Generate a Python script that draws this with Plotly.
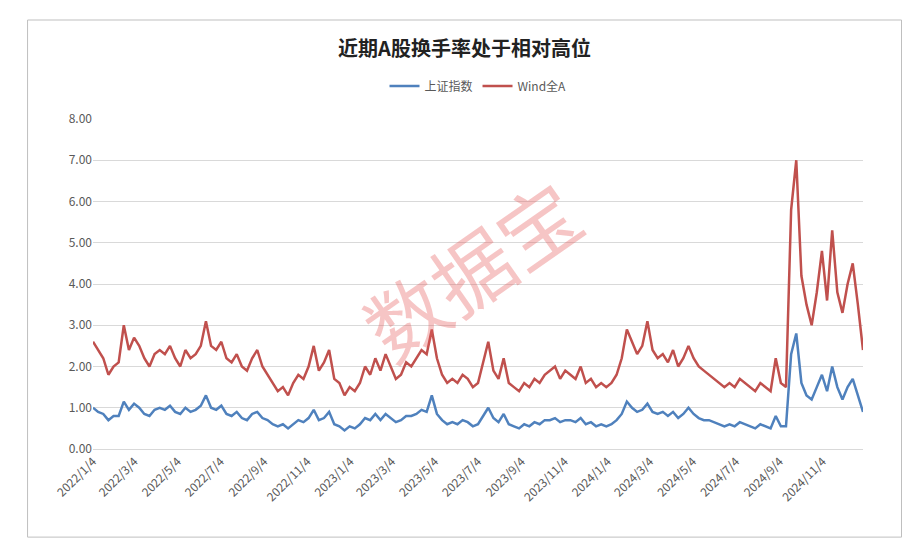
import numpy as np
import pandas as pd
import plotly.graph_objects as go

sh_index = [1.0, 0.9, 0.85, 0.7, 0.8, 0.8, 1.15, 0.95, 1.1, 1.0, 0.85, 0.8, 0.95, 1.0,
            0.95, 1.05, 0.9, 0.85, 1.0, 0.9, 0.95, 1.05, 1.3, 1.0, 0.95, 1.05, 0.85,
            0.8, 0.9, 0.75, 0.7, 0.85, 0.9, 0.75, 0.7, 0.6, 0.55, 0.6, 0.5, 0.6,
            0.7, 0.65, 0.75, 0.95, 0.7, 0.75, 0.9, 0.6, 0.55,
            0.45, 0.55, 0.5, 0.6, 0.75, 0.7, 0.85, 0.7, 0.85, 0.75, 0.65, 0.7, 0.8,
            0.8, 0.85, 0.95, 0.9, 1.3, 0.85, 0.7, 0.6, 0.65, 0.6, 0.7, 0.65,
            0.55, 0.6, 0.8, 1.0, 0.75, 0.65, 0.85, 0.6, 0.55, 0.5, 0.6, 0.55, 0.65,
            0.6, 0.7, 0.7, 0.75, 0.65, 0.7, 0.7, 0.65, 0.75, 0.6, 0.65, 0.55, 0.6,
            0.55, 0.6, 0.7, 0.85, 1.15, 1.0, 0.9, 0.95, 1.1, 0.9, 0.85, 0.9,
            0.8, 0.9, 0.75, 0.85, 1.0, 0.85, 0.75, 0.7, 0.7, 0.65, 0.6, 0.55,
            0.6, 0.55, 0.65, 0.6, 0.55, 0.5, 0.6, 0.55, 0.5, 0.8, 0.55, 0.55, 2.3,
            2.8, 1.6, 1.3, 1.2, 1.5, 1.8, 1.4, 2.0, 1.5, 1.2, 1.5, 1.7, 1.3, 0.9]
wind_a = [2.6, 2.4, 2.2, 1.8, 2.0, 2.1, 3.0, 2.4, 2.7, 2.5, 2.2, 2.0, 2.3, 2.4,
          2.3, 2.5, 2.2, 2.0, 2.4, 2.2, 2.3, 2.5, 3.1, 2.5, 2.4, 2.6, 2.2,
          2.1, 2.3, 2.0, 1.9, 2.2, 2.4, 2.0, 1.8, 1.6, 1.4, 1.5, 1.3, 1.6,
          1.8, 1.7, 2.0, 2.5, 1.9, 2.1, 2.4, 1.7, 1.6,
          1.3, 1.5, 1.4, 1.6, 2.0, 1.8, 2.2, 1.9, 2.3, 2.0, 1.7, 1.8, 2.1,
          2.0, 2.2, 2.4, 2.3, 2.9, 2.2, 1.8, 1.6, 1.7, 1.6, 1.8, 1.7,
          1.5, 1.6, 2.1, 2.6, 1.9, 1.7, 2.2, 1.6, 1.5, 1.4, 1.6, 1.5, 1.7,
          1.6, 1.8, 1.9, 2.0, 1.7, 1.9, 1.8, 1.7, 2.0, 1.6, 1.7, 1.5, 1.6,
          1.5, 1.6, 1.8, 2.2, 2.9, 2.6, 2.3, 2.5, 3.1, 2.4, 2.2, 2.3,
          2.1, 2.4, 2.0, 2.2, 2.5, 2.2, 2.0, 1.9, 1.8, 1.7, 1.6, 1.5,
          1.6, 1.5, 1.7, 1.6, 1.5, 1.4, 1.6, 1.5, 1.4, 2.2, 1.6, 1.5, 5.8,
          7.0, 4.2, 3.5, 3.0, 3.8, 4.8, 3.6, 5.3, 3.8, 3.3, 4.0, 4.5, 3.5, 2.4]
tick_labels = ["2022/1/4", "2022/3/4", "2022/5/4", "2022/7/4", "2022/9/4", "2022/11/4",
               "2023/1/4", "2023/3/4", "2023/5/4", "2023/7/4", "2023/9/4", "2023/11/4",
               "2024/1/4", "2024/3/4", "2024/5/4", "2024/7/4", "2024/9/4", "2024/11/4"]

n = len(wind_a)
t0 = pd.Timestamp("2022-01-04").value
t1 = pd.Timestamp("2024-12-31").value
dates = pd.to_datetime(np.linspace(t0, t1, n))
tickvals = [pd.Timestamp(s.replace("/", "-")) for s in tick_labels]

fig = go.Figure()
fig.add_trace(go.Scatter(x=dates, y=sh_index, mode="lines", name="上证指数",
                         line=dict(color="#4F81BD", width=2.5)))
fig.add_trace(go.Scatter(x=dates, y=wind_a, mode="lines", name="Wind全A",
                         line=dict(color="#C0504D", width=2.5)))
fig.update_layout(
    width=913, height=549, paper_bgcolor="white", plot_bgcolor="white",
    margin=dict(l=85, r=58, t=111, b=108, autoexpand=False),
    font=dict(family="Noto Sans CJK SC, sans-serif", color="#595959", size=12),
    title=dict(text="<b>近期A股换手率处于相对高位</b>", x=0.5, y=0.925, xanchor="center",
               yanchor="middle", font=dict(size=20, color="#222")),
    legend=dict(orientation="h", x=0.5, xanchor="center", y=1.1, yanchor="middle",
                font=dict(size=12, color="#595959")),
    xaxis=dict(tickvals=tickvals, ticktext=tick_labels, tickangle=-45, showgrid=False,
               range=[pd.Timestamp("2022-01-04"), pd.Timestamp("2024-12-31")],
               showline=True, linecolor="#d9d9d9", tickfont=dict(size=12)),
    yaxis=dict(range=[0, 8], dtick=1, tickformat=".2f", gridcolor="#d9d9d9",
               zeroline=False, tickfont=dict(size=12)),
    shapes=[dict(type="rect", xref="paper", yref="paper", x0=-0.085, x1=1.05,
                 y0=-0.267, y1=1.3, line=dict(color="#bfbfbf", width=1))],
    annotations=[dict(text="数据宝", x=0.49, y=0.55, xref="paper", yref="paper",
                      showarrow=False, textangle=-35,
                      font=dict(size=80, color="rgba(230,90,90,0.35)"))],
)
fig.write_html("out.html")
